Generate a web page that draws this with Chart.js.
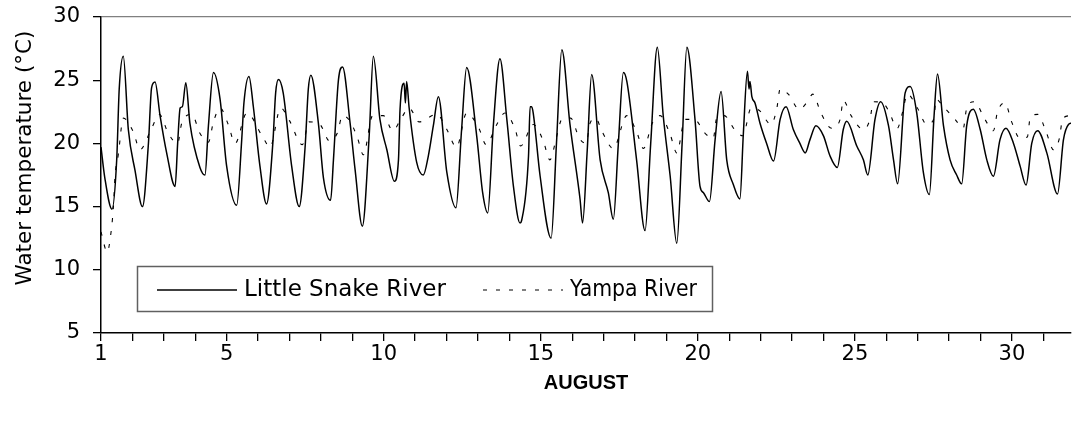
<!DOCTYPE html>
<html>
<head>
<meta charset="utf-8">
<script src="https://cdn.jsdelivr.net/npm/chart.js"></script>
<style>
body { margin: 0; background: #fff; }
</style>
</head>
<body>
<canvas id="chart" width="1072" height="427"></canvas>
<script>
// Little Snake River, day of August (fractional) and water temperature (°C)
const lsDays = [1.00, 1.12, 1.35, 1.50, 1.58, 1.71, 1.87, 2.08, 2.32, 2.51, 2.61, 2.72, 2.88, 3.09, 3.36,
  3.44, 3.52, 3.59, 3.70, 3.83, 4.15, 4.31, 4.42, 4.58, 4.79, 5.00, 5.32, 5.48, 5.55, 5.71, 5.85, 6.06, 6.27,
  6.47, 6.56, 6.65, 6.80, 7.07, 7.31, 7.50, 7.60, 7.68, 7.92, 8.08, 8.31, 8.40, 8.56, 8.69, 8.93, 9.09, 9.32,
  9.54, 9.67, 9.88, 10.10, 10.34, 10.47, 10.52, 10.65, 10.69, 10.73, 10.81, 11.05, 11.26, 11.42, 11.58, 11.74,
  12.01, 12.30, 12.48, 12.64, 12.96, 13.15, 13.31, 13.49, 13.70, 13.92, 14.13, 14.34, 14.39, 14.61, 14.66,
  14.71, 14.76, 14.98, 15.33, 15.50, 15.67, 15.93, 16.25, 16.33, 16.48, 16.62, 16.89, 17.15, 17.31, 17.47,
  17.63, 17.74, 18.05, 18.32, 18.50, 18.71, 18.90, 19.12, 19.33, 19.50, 19.65, 19.91, 20.07, 20.18, 20.37,
  20.55, 20.74, 20.92, 21.13, 21.34, 21.45, 21.58, 21.63, 21.66, 21.72, 21.82, 21.98, 22.19, 22.41, 22.62,
  22.81, 23.04, 23.25, 23.42, 23.57, 23.76, 24.00, 24.21, 24.44, 24.63, 24.74, 25.06, 25.27, 25.41, 25.64,
  25.82, 26.07, 26.23, 26.36, 26.60, 26.76, 26.97, 27.18, 27.37, 27.52, 27.63, 27.82, 28.03, 28.24, 28.40,
  28.56, 28.77, 28.99, 29.20, 29.41, 29.62, 29.81, 30.05, 30.26, 30.45, 30.63, 30.82, 31.11, 31.45, 31.64,
  31.80, 31.90];
const lsTemps = [19.7, 17.3, 14.8, 18.7, 24.3, 26.9, 21.1, 17.9, 15.0, 20.0, 24.4, 24.85, 22.2, 19.25, 16.6,
  20.0, 22.8, 22.9, 24.8, 21.6, 18.1, 17.5, 21.4, 25.6, 23.5, 18.2, 15.1, 20.3, 23.2, 25.3, 22.9, 18.2, 15.2,
  20.0, 24.0, 25.05, 24.0, 18.2, 15.0, 19.8, 24.3, 25.4, 21.6, 17.3, 15.5, 18.7, 25.05, 26.05, 21.6, 17.9, 13.45,
  20.7, 26.9, 21.9, 19.5, 17.0, 18.7, 22.7, 24.75, 23.2, 24.9, 22.8, 18.5, 17.5, 19.0, 21.4, 23.7,
  17.7, 14.9, 21.1, 26.0, 20.6, 16.1, 14.5, 21.4, 26.7, 21.9, 16.6, 13.7, 13.9, 19.0, 22.9,
  22.9, 22.4, 17.4, 12.5, 20.0, 27.4, 21.5, 15.6, 13.7, 19.5, 25.45, 18.7, 16.1, 14.0, 20.0,
  25.6, 24.9, 18.7, 13.1, 20.0, 27.6, 22.15, 17.4, 12.1, 20.0, 27.6, 21.9, 16.6, 16.1, 15.4,
  20.3, 24.1, 18.7, 16.75, 15.6, 20.8, 25.7, 24.3, 24.9, 23.7, 23.2, 21.6, 20.0, 18.6, 21.9,
  22.9, 21.1, 20.0, 19.25, 20.3, 21.4, 20.6, 19.0, 18.1, 21.1, 21.75, 19.8, 18.7, 17.5, 21.9,
  23.3, 21.4, 18.7, 16.8, 24.0, 24.5, 22.4, 17.7, 15.95, 22.15, 25.5, 21.4, 18.7, 17.5, 16.8,
  21.4, 22.7, 21.1, 18.7, 17.4, 20.3, 21.2, 20.0, 18.2, 16.7, 20.0, 21.0, 19.25, 16.0, 20.3,
  21.5, 21.6];

// Yampa River
const yampaDays = [1.00, 1.20, 1.30, 1.39, 1.45, 1.55, 1.71, 2.03, 2.24, 2.61, 2.86, 3.14, 3.44, 3.57, 3.89,
  4.15, 4.42, 4.58, 4.79, 5.05, 5.27, 5.64, 6.15, 6.38, 6.72, 7.00, 7.41, 7.62, 7.97, 8.27, 8.52, 8.69, 8.93,
  9.17, 9.35, 9.65, 9.99, 10.29, 10.54, 10.81, 11.13, 11.69, 12.01, 12.32, 12.64, 13.03, 13.26, 13.60, 13.86,
  14.18, 14.36, 14.76, 15.08, 15.29, 15.51, 15.67, 15.95, 16.23, 16.44, 16.57, 16.75, 16.94, 17.31, 17.74,
  18.04, 18.27, 18.55, 18.80, 19.12, 19.33, 19.59, 19.89, 20.23, 20.49, 20.60, 20.84, 21.17, 21.43, 21.70,
  21.96, 22.33, 22.51, 22.62, 22.88, 23.23, 23.49, 23.66, 23.92, 24.26, 24.53, 24.63, 24.88, 25.27, 25.48,
  25.59, 25.93, 26.09, 26.35, 26.52, 26.67, 26.99, 27.29, 27.52, 27.58, 27.82, 28.19, 28.45, 28.56, 28.80,
  29.14, 29.41, 29.54, 29.78, 29.99, 30.26, 30.49, 30.58, 30.82, 31.09, 31.32, 31.51, 31.61, 31.83];
const yampaTemps = [13.0, 11.4, 12.6, 14.8, 17.5, 19.1, 22.0, 20.9, 19.5, 21.2, 22.3, 20.8, 20.0, 21.6, 22.3,
  20.8, 20.1, 21.7, 22.8, 21.5, 20.0, 22.4, 20.5, 19.7, 22.8, 21.8, 19.9, 21.7, 21.5, 20.2, 20.8, 22.2, 21.75,
  20.4, 19.1, 22.2, 22.2, 21.0, 21.9, 22.8, 21.7, 22.3, 21.1, 19.7, 22.4, 21.2, 19.9, 21.5, 22.4,
  21.15, 19.8, 21.5, 20.2, 18.7, 20.6, 21.9, 22.0, 20.4, 20.0, 21.6, 22.0, 21.0, 19.6, 22.2,
  21.0, 19.6, 21.6, 22.2, 20.7, 19.25, 21.9, 21.9, 20.8, 20.4, 22.0, 22.2, 21.1, 20.6, 22.8,
  22.6, 21.5, 22.7, 24.3, 23.9, 22.7, 23.3, 23.9, 22.4, 21.2, 21.9, 23.4, 22.2, 21.1, 21.9,
  23.3, 23.1, 22.5, 21.2, 22.5, 23.9, 22.8, 21.5, 22.0, 23.5, 22.9, 21.9, 21.2, 22.8, 23.3,
  21.9, 21.0, 22.5, 23.2, 21.7, 20.4, 20.5, 22.0, 22.3, 20.9, 19.5, 20.4, 21.9, 22.2];

const xTickLabels = [1, 5, 10, 15, 20, 25, 30];
const yTickValues = [5, 10, 15, 20, 25, 30];
const dayTicks = Array.from({ length: 31 }, (_, i) => i + 1);

const toPoints = (xs, ys) => xs.map((x, i) => ({ x: x, y: ys[i] }));

// legend in a box inside the plot, plus the y title
const boxLegend = {
  id: 'boxLegend',
  afterDatasetsDraw(chart) {
    const ctx = chart.ctx;
    ctx.save();
    ctx.fillStyle = '#fff';
    ctx.fillRect(137, 266, 576, 46);
    ctx.strokeStyle = '#606060';
    ctx.lineWidth = 1.5;
    ctx.strokeRect(137.5, 266.5, 575, 45);

    const starts = [157, 483];
    const textWidths = [202, 127];
    ctx.font = '23px "DejaVu Sans"';
    ctx.textBaseline = 'middle';
    chart.data.datasets.forEach((ds, i) => {
      const x = starts[i];
      const y = 290;
      ctx.strokeStyle = ds.borderColor;
      ctx.lineWidth = ds.borderWidth;
      ctx.setLineDash(ds.borderDash || []);
      ctx.beginPath();
      ctx.moveTo(x, y);
      ctx.lineTo(x + 80, y);
      ctx.stroke();
      ctx.setLineDash([]);
      ctx.fillStyle = '#000';
      ctx.fillText(ds.label, x + 87, y, textWidths[i]);
    });
    ctx.restore();
  },
  afterDraw(chart) {
    const ctx = chart.ctx;
    ctx.save();
    ctx.translate(25, 158);
    ctx.rotate(-Math.PI / 2);
    ctx.font = '21.5px "DejaVu Sans"';
    ctx.fillStyle = '#000';
    ctx.textAlign = 'center';
    ctx.textBaseline = 'middle';
    ctx.fillText('Water temperature (°C)', 0, 0);
    ctx.restore();
  }
};

new Chart(document.getElementById('chart'), {
  type: 'line',
  data: {
    datasets: [{
      label: 'Little Snake River',
      data: toPoints(lsDays, lsTemps),
      borderColor: '#000',
      borderWidth: 1.5,
      pointRadius: 0,
      fill: false,
      cubicInterpolationMode: 'monotone'
    }, {
      label: 'Yampa River',
      data: toPoints(yampaDays, yampaTemps),
      borderColor: '#000',
      borderWidth: 1.1,
      borderDash: [4, 9],
      pointRadius: 0,
      fill: false,
      cubicInterpolationMode: 'monotone'
    }]
  },
  options: {
    responsive: false,
    animation: false,
    layout: { padding: { top: 17, right: 1, left: 0, bottom: 0 } },
    plugins: {
      legend: { display: false },
      tooltip: { enabled: false }
    },
    scales: {
      x: {
        type: 'linear',
        min: 1,
        max: 31.88,
        afterBuildTicks: (scale) => { scale.ticks = dayTicks.map(v => ({ value: v })); },
        afterFit: (scale) => {
          scale.height = 94;
          scale.paddingLeft = 0;
          scale.paddingRight = 0;
        },
        grid: {
          drawOnChartArea: false,
          tickLength: 8,
          tickColor: '#000',
          lineWidth: 1.3
        },
        border: { color: '#000', width: 1.5 },
        ticks: {
          autoSkip: false,
          maxRotation: 0,
          padding: 1,
          color: '#000',
          font: { family: '"DejaVu Sans"', size: 21 },
          callback: (v) => xTickLabels.includes(v) ? String(v) : ''
        },
        title: {
          display: true,
          text: 'AUGUST',
          color: '#000',
          font: { family: '"Liberation Sans", Arial', size: 20, weight: 'bold' },
          padding: { top: 0, bottom: 32 }
        }
      },
      y: {
        min: 5,
        max: 30,
        afterBuildTicks: (scale) => { scale.ticks = yTickValues.map(v => ({ value: v })); },
        afterFit: (scale) => {
          scale.width = 101;
          scale.paddingTop = 0;
          scale.paddingBottom = 0;
        },
        grid: {
          color: (c) => c.tick && c.tick.value === 30 ? '#808080' : 'rgba(0,0,0,0)',
          tickColor: '#000',
          tickLength: 8,
          lineWidth: 1.3
        },
        border: { color: '#000', width: 1.5 },
        ticks: {
          padding: 13,
          color: '#000',
          font: { family: '"DejaVu Sans"', size: 21 }
        }
      }
    }
  },
  plugins: [boxLegend]
});
</script>
</body>
</html>
